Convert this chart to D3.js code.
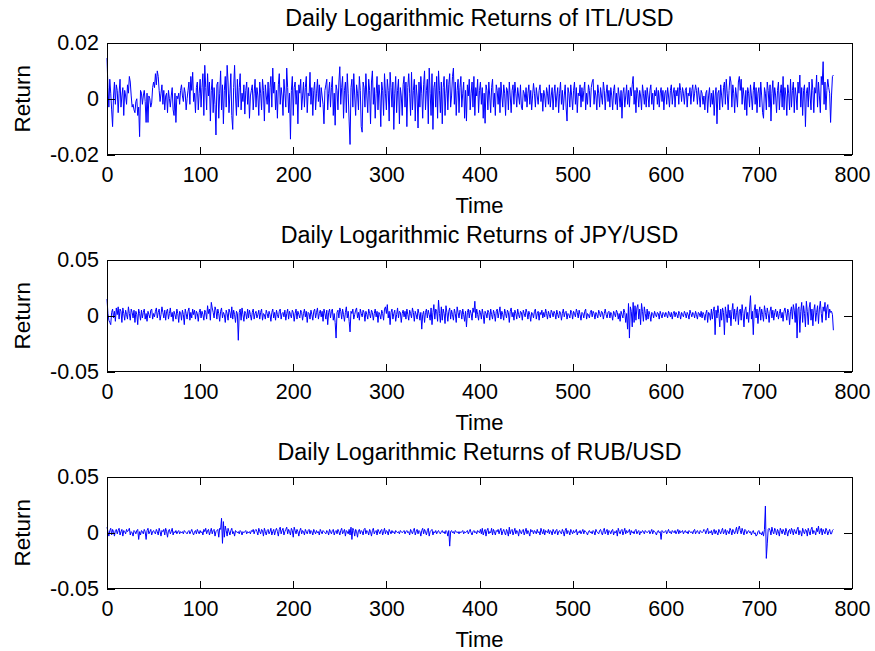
<!DOCTYPE html>
<html lang="en">
<head>
<meta charset="UTF-8">
<title>Daily Logarithmic Returns</title>
<style>
  body { margin: 0; background: #fff; }
  svg text { font-family: "Liberation Sans", Arial, sans-serif; fill: #000; }
</style>
</head>
<body>
<script src="https://d3js.org/d3.v7.min.js"></script>
<div id="chart"></div>
<script>
// daily log returns, in units of 1e-4, one value per day (t = 0..780)
const itlReturns = [
  146, 40, -30, 70, 20, -40, -100, 10, 60, -20, 50, 30, -50, 20, 70, -30, 10, 40, -60, 30,
  10, -20, 50, 20, 80, 60, 10, -30, -20, -40, -50, -10, 0, -60, -30, -136, 30, 20, -20, 10,
  30, -10, -85, 20, -85, 10, 0, -30, -15, 40, 60, 40, 90, 50, 100, 80, 30, -10, 20, 50,
  -20, 30, -40, 10, 20, -50, 30, 0, -30, 10, 40, -40, -60, 20, -85, 10, 0, 20, -20, 30,
  50, 10, -10, 40, 20, -40, 0, 30, 60, -20, 80, 30, 95, -10, 20, -50, 40, 60, -40, 20,
  70, -30, 40, 90, -60, 120, 40, -40, 90, 10, 60, -80, 30, 70, -50, 40, -20, -130, 50, 60,
  -70, 20, 100, -40, 50, -90, 30, 80, -30, 120, 60, -50, 20, 90, -60, -110, 40, 120, 10, -60,
  70, -30, 40, 90, -40, 20, -10, 50, -55, 30, 60, -20, 40, -70, 10, 30, 50, -40, 20, 70,
  -30, 40, 10, -60, 60, 20, -40, 70, 30, -80, 50, 10, -20, 60, -50, 40, 80, -30, 110, 20,
  60, -40, 30, -70, 50, 90, -20, 40, 10, -60, 70, 20, -30, 110, 40, -50, 20, -145, 30, 80,
  -60, 40, 60, -20, 30, -90, 50, 20, 70, -40, 10, 60, -30, 40, 80, -50, 20, 10, 95, -20,
  40, -60, 30, 60, -40, 20, 70, -10, 50, -30, 40, 10, -20, -90, 30, 50, 70, -40, 20, 60,
  -30, 40, 80, -60, 20, -95, 50, 30, -40, 60, 115, -20, 40, 80, -70, 30, 60, -50, 90, 20,
  -80, -164, 40, 70, -30, 90, 10, -60, 50, 20, -40, 80, 30, -100, -120, 60, 40, -30, 90, 10,
  -50, 70, 30, -90, 60, 100, -20, 40, -70, 20, 80, -40, 50, 10, -100, 60, 30, -60, 90, 20,
  -40, 70, 30, -80, 95, 40, -30, 60, -110, 20, 80, -50, 30, 70, -90, 40, 10, -60, 50, 80,
  -30, 60, -100, 40, 90, 20, -60, 95, -40, 30, 70, -80, 50, 10, -105, 60, -30, 80, 20, -70,
  50, 100, -40, 30, 70, -90, 110, 20, -60, 90, -110, 40, 60, -30, 80, -70, 100, 30, -50, 60,
  -90, 40, 80, -60, 20, 70, -40, 50, 90, -30, 10, 80, 110, -20, 60, -60, 30, 70, -50, 40,
  80, -30, 20, 60, -70, 30, -80, 50, 10, 70, -40, 20, 60, -30, 80, -60, 40, 10, 70, -50,
  30, 60, -20, 40, -70, 20, -88, 50, 30, -40, 60, 10, -50, 40, 70, -30, 20, -60, 50, 30,
  -20, 40, -50, 60, 10, -30, 50, 20, -60, 40, 30, -40, 60, 10, -50, 30, 50, -20, 60, 20,
  -30, 40, 10, -20, 50, -30, -40, 30, 20, -10, 40, -30, 20, 50, -20, 30, -40, 10, 55, 20,
  -30, 40, 10, -20, 30, 50, -10, 20, -45, 30, 10, -30, 40, 20, -20, 50, -30, 10, 40, -40,
  20, 50, -30, 10, 40, -50, 20, 60, -20, 30, -40, 10, 50, -30, -80, 40, 20, -30, 50, 10,
  -40, 30, 60, -20, 40, -50, 20, 10, 50, -30, 40, -10, 30, 60, -40, 20, -20, 50, 30, -30,
  40, 60, 70, -20, 30, 10, -40, 50, 20, -30, 40, 10, -20, 60, 30, -40, 20, 50, -10, 30,
  -30, 40, 10, -40, 30, 50, -20, 20, -40, 40, 10, -30, 30, -70, 20, 40, -30, 10, 50, -20,
  30, -30, 40, 10, 50, 80, -20, 30, -50, 40, 20, -30, 30, 10, -40, 50, 20, -20, 30, -30,
  40, 10, -30, 30, 50, -20, 20, -40, 30, 10, 40, -20, 30, -30, 20, 40, -10, 30, -40, 20,
  30, -20, 40, 10, -30, 30, 50, -20, 20, 40, -30, 30, 10, 40, -20, 55, 30, -10, 40, 20,
  -20, 30, 40, -30, 20, 10, 40, -20, 30, 50, -10, 20, 50, 30, -20, 40, 10, -30, 30, 20,
  -20, 10, -40, 20, 30, -50, 10, 40, -30, 20, -20, 30, -60, 10, 40, -90, 20, 30, -40, 50,
  10, -30, 40, 60, -20, 70, 20, -40, 30, 80, 60, -30, 50, 20, -50, 40, 10, -30, 60, 80,
  30, 70, -20, 40, 10, -40, 30, -60, 40, 20, -30, 50, 10, -40, 30, 60, -20, 40, -50, 20,
  40, -30, 60, 10, -50, -70, 40, 20, -40, 60, 30, -30, 50, -80, 20, 65, -20, 40, 10, -50,
  30, 60, -40, 20, 50, -30, 80, -40, 40, 10, -60, 50, 20, -40, 70, -30, 30, 60, -50, 40,
  10, -40, 60, 20, 85, -30, 40, -60, 30, 50, -100, 20, 40, -30, 60, 10, -40, 70, 30, -50,
  40, 20, 85, -30, 60, 10, -50, 80, 50, 133, -20, 60, -40, 30, 70, 40, 20, -85, 10, 80,
  85
];

const jpyReturns = [
  150, 20, -40, -60, -80, 30, 60, -20, 40, -50, 70, 10, 80, -30, 60, 40, -60, 70, 20, -40,
  50, 10, -30, 80, 20, -40, 60, 30, -20, 50, -60, 40, 10, -80, 60, 20, -40, 50, -20, 30,
  60, -30, 20, -50, 40, 10, -20, 50, 60, -30, 20, -10, 40, 70, -20, 30, 60, -40, 10, 80,
  30, -20, 50, -40, 40, 60, -30, 20, 70, -10, 30, -50, 40, 10, -30, 60, 20, -60, 40, 30,
  -40, 50, 10, -80, 60, 20, -30, 40, 70, -40, 30, -20, 60, 10, 50, -30, 40, 20, -50, 30,
  60, -20, 40, 10, -40, 50, 30, -30, 90, 20, 60, -40, 120, 70, 30, -20, 80, 50, -30, 60,
  20, -50, 40, 70, -20, 30, 10, -60, 50, 20, -40, 60, 30, -20, 80, -30, 50, 10, -60, 40,
  20, -220, 30, 60, -40, 70, 10, -50, 40, 20, -30, 60, -20, 50, 10, -40, 30, 60, -30, 20,
  40, -20, 10, 50, -30, 30, 60, -40, 20, 10, -30, 50, 20, -20, 40, 10, -50, 30, 60, -20,
  30, -40, 50, 10, -20, 40, 60, -30, 20, 30, -10, 50, -40, 20, 60, -30, 40, 10, -20, 50,
  30, -50, 20, 60, -30, 40, 10, -20, 50, 30, -40, 20, 60, -10, 40, -60, 30, 20, -30, 50,
  10, -40, 40, 60, -20, 30, 70, -30, 20, 50, -10, 40, -50, 60, 20, -30, 50, -80, 30, 60,
  -20, 40, 60, -40, 20, -60, -200, 30, 50, -20, 70, 40, -30, 60, 10, -50, 30, 80, -20, 40,
  -50, -145, 40, 20, 60, -30, 10, 50, 70, -20, 30, -40, 60, 20, -10, 50, 30, -50, 40, 10,
  -30, 60, 20, -20, 50, 30, -40, 20, 60, -10, 40, -60, 30, 10, -30, 50, 20, -40, 60, 80,
  20, 100, -20, 40, -80, 30, 60, -30, 20, 50, -50, 10, 70, -20, 40, 30, -60, 20, 50, -10,
  40, -30, 60, 10, -40, 50, 20, -20, 70, 30, -50, 40, 10, -30, 60, 20, -40, 30, -120, 10,
  40, -60, 30, 60, -20, 50, 10, -40, 70, -80, 30, 100, -30, 60, 40, -50, 140, 20, -60, 80,
  -40, 60, 20, -70, 90, 30, -50, 40, 70, -30, 50, 10, -40, 60, 20, -60, 80, 30, -20, 50,
  40, -30, 60, 10, -50, 40, -100, 30, 60, -20, 50, 20, -40, 70, 30, 130, -20, 60, 10, -40,
  50, 30, -30, 60, 10, -70, 40, 20, -20, 50, 30, -40, 60, 10, -30, 50, 20, -50, 40, 60,
  -20, 30, 80, -30, 40, 10, -40, 60, 20, -20, 50, 30, -60, 40, 70, -10, 30, -40, 50, 20,
  -30, 60, 10, -20, 40, 30, -40, 50, 20, -10, 60, 30, -30, 40, 10, -50, 30, 20, -20, 40,
  60, -30, 20, 40, -40, 30, 10, 50, -20, 30, -10, 60, 20, -30, 40, 10, -20, 50, 30, -10,
  40, 20, -30, 50, 10, -20, 40, 30, -40, 20, 60, -10, 30, 40, -30, 20, 10, -20, 50, 30,
  -30, 40, 20, -10, 60, 30, -20, 50, 10, -40, 30, 20, -20, 40, 60, -30, 20, 10, -20, 30,
  50, -10, 40, 20, -30, 30, 10, -20, 50, 20, -10, 40, 30, -30, 20, 60, 10, -20, 30, 40,
  -20, 30, 10, -40, 40, 20, -10, 50, 30, -30, 20, -50, 40, 10, -20, 60, 30, -60, 20, -120,
  110, -200, 80, 40, -100, 120, -60, 90, -40, 70, 100, -30, 60, -80, 110, 40, -50, 80, 20, -40,
  60, -30, 40, 10, -50, 30, 20, -20, 40, 10, -10, 30, 20, -30, 40, 10, -20, 30, 20, -10,
  30, 10, -20, 40, 20, -10, 30, -30, 20, 40, -10, 30, 10, -20, 40, 20, -30, 30, 10, -10,
  40, 20, -20, 30, 10, -30, 50, 20, -10, 30, 20, -20, 40, 10, -30, 30, 20, -10, 40, -20,
  30, 10, -40, 20, 50, -60, 30, 20, -40, 60, -30, 40, 80, -170, 50, -20, 90, 20, -100, 60,
  -40, 70, 30, -170, 80, 20, -60, 100, -20, 50, -90, 40, 110, -30, 60, -50, 30, 80, -80, 40,
  60, -40, 100, 20, -100, 50, 80, -30, 30, -60, 70, 180, -30, 40, -170, 50, 100, -20, 60, -70,
  30, 80, -40, 60, 10, -50, 90, 30, -30, 70, 20, -60, 40, 80, -20, 50, -40, 30, 60, -10,
  40, -30, 20, 60, -20, 30, -50, 40, 70, 20, -40, 60, 30, -80, 40, 80, -30, 100, 50, -60,
  110, -200, 60, 80, -150, 40, 120, -60, 90, 20, -100, 130, 40, -80, 70, 120, -40, 60, -90, 50,
  100, -50, 30, 90, -70, 60, 130, 20, -60, 80, 40, 120, -40, 70, 100, -20, 60, 30, 40, 10,
  -130
];

const rubReturns = [
  50, 10, -30, 20, 40, -20, 30, 10, -30, 20, 30, -10, 20, 40, -20, 10, 30, -30, 20, 10,
  -10, 30, 10, 20, 40, -20, 10, 0, -30, 20, 10, -10, 20, 30, -60, 10, -20, 20, 10, -10,
  30, 10, -60, 20, 40, -10, 10, 30, -20, 10, 20, 0, -10, 30, 10, -20, 40, 10, -30, 20,
  10, 30, -20, 40, 10, -40, 20, 30, -10, 10, 40, -20, 10, 0, 20, -10, 10, 20, -10, 10,
  0, 10, -10, 20, 10, 0, -10, 10, 20, -10, 10, 30, 0, -20, 10, 20, -10, 30, 10, -10,
  20, 0, 10, -20, 30, 10, 40, -10, 20, 30, -20, 10, 40, -10, 20, 30, -30, 10, 20, 30,
  -40, 40, 30, 130, -95, 100, -40, 60, 20, -30, 40, 10, -20, 20, 40, -10, 10, -30, 20, 10,
  0, 10, -10, 20, 10, -20, 10, 0, 10, 20, -10, 10, 0, 10, -10, 20, 10, 30, -10, 20,
  30, 10, -20, 40, 10, -10, 30, 20, -30, 40, 10, -20, 20, 30, -10, 10, 40, -20, 10, 30,
  -20, 20, 40, 10, -30, 30, 50, -10, 20, 40, -20, 10, 30, 50, -10, 30, 10, -20, 40, 20,
  -40, 50, 20, -10, 30, 10, -30, 20, 40, -10, 20, 10, -20, 30, 10, -10, 20, 30, -10, 20,
  10, -20, 30, 10, -10, 20, 0, 10, -20, 30, 10, -10, 20, 10, 0, -10, 20, 10, -20, 30,
  10, -10, 20, 30, -20, 10, 20, -10, 30, 10, -20, 20, 40, -10, 10, 30, -30, 20, 10, -10,
  30, -20, 50, -60, 40, 20, -30, 30, 10, -40, 20, 30, -10, 20, 10, -20, 30, 40, -10, 20,
  10, -20, 30, 10, -30, 20, 40, -10, 10, 20, -20, 30, 10, -10, 20, 30, -20, 10, 40, -10,
  20, 10, -20, 30, 10, -10, 20, 0, 10, -10, 20, 10, 0, 10, -10, 20, 10, 0, 10, 20,
  -10, 10, 20, 0, 10, -20, 30, 10, -10, 20, 40, -20, 10, 30, -10, 20, 10, -30, 20, 40,
  -10, 30, 10, -20, 20, 40, -30, 10, 20, 30, -20, 10, 0, 20, -10, 10, 20, 0, -10, 10,
  20, 0, 10, -10, 20, 10, -30, 20, -120, 10, 20, 0, 10, -10, 20, 10, 0, 10, -10, 10,
  0, 10, 20, -10, 10, 0, 10, 20, -10, 10, 30, 0, -20, 10, 20, 0, 10, -10, 20, 10,
  0, 30, -10, 40, -20, 10, 30, -30, 20, 40, -10, 10, 0, 40, -20, 30, 10, -20, 20, 10,
  30, -10, 20, 40, -20, 10, 30, 0, -20, 30, 10, -30, 50, -10, 20, 30, -20, 10, 40, -10,
  20, 10, -30, 30, 10, -10, 20, 30, -20, 10, 40, -10, 20, 0, -30, 30, 10, 20, -10, 20,
  10, -10, 30, 0, 10, -20, 40, 10, -10, 30, -20, 20, 10, 0, 30, -10, 20, 10, -20, 30,
  10, -10, 20, 30, -20, 10, 20, 0, -10, 30, 10, -30, 20, 40, -10, 20, 10, -20, 30, 10,
  -10, 20, 0, 10, 30, -20, 10, 0, 20, -10, 10, 30, -10, 20, 10, 0, -20, 10, 20, 0,
  10, -10, 20, 10, -20, 30, 10, 0, -10, 20, 30, 0, -20, 20, 40, -10, 10, 30, -20, 20,
  10, -10, 20, 30, -20, 10, 0, 20, -30, 40, 10, -10, 20, 30, -20, 10, 40, -10, 20, 0,
  10, 30, -20, 20, 0, 10, -10, 20, 30, -10, 10, 20, -20, 10, 0, 20, 10, -10, 20, 10,
  0, 10, 20, -10, 10, 30, -10, 20, 10, 0, -20, 10, 20, 0, 10, -60, 20, 10, 0, 10,
  20, -10, 10, 30, 0, 10, -10, 20, 10, 0, 20, -10, 10, 30, -10, 20, 0, 10, 20, -10,
  10, 20, 0, 10, -10, 20, 10, 0, 10, -10, 20, 30, -10, 10, 20, 0, -10, 20, 10, 0,
  10, 30, 20, -10, 20, 40, -10, 10, 0, 20, -20, 10, 30, -10, 20, 0, -20, 30, 10, -10,
  20, 40, -10, 10, 30, -20, 20, 10, -10, 40, 20, -20, 30, 10, -10, 20, 50, -10, 30, 60,
  20, -10, 40, 10, -20, 30, 20, -10, 10, 20, 0, 10, -20, 10, 20, -10, 0, -30, -20, 10,
  20, -10, 0, -20, 10, -30, 30, 240, -230, -100, 30, 40, 20, -20, 50, 10, -10, 40, 20, -20,
  30, 10, -30, 40, 20, -10, 30, 10, -20, 40, 10, -30, 20, 30, -10, 40, 20, -20, 30, 10,
  -10, 30, 50, -20, 20, 10, -30, 40, 10, -10, 30, 20, -30, 40, 10, -20, 30, 50, -10, 20,
  10, -20, 40, 10, 60, -10, 20, 40, -20, 30, 10, -10, 40, 20, -20, 10, 30, -10, -10, 20,
  30
];

const titles = [
  "Daily Logarithmic Returns of ITL/USD",
  "Daily Logarithmic Returns of JPY/USD",
  "Daily Logarithmic Returns of RUB/USD"
];
const xTicks = [0, 100, 200, 300, 400, 500, 600, 700, 800];
const yTicksItl = [-0.02, 0, 0.02];
const yLabelsItl = ["-0.02", "0", "0.02"];
const yTicksWide = [-0.05, 0, 0.05];
const yLabelsWide = ["-0.05", "0", "0.05"];

const width = 875, height = 651;
const left = 107, right = 852, panelH = 111.5;
const panelTops = [43, 260, 477];

const panels = [
  {title: titles[0], values: itlReturns, ticks: yTicksItl, labels: yLabelsItl},
  {title: titles[1], values: jpyReturns, ticks: yTicksWide, labels: yLabelsWide},
  {title: titles[2], values: rubReturns, ticks: yTicksWide, labels: yLabelsWide}
];

const svg = d3.select("#chart").append("svg")
    .attr("width", width)
    .attr("height", height)
    .style("display", "block")
    .style("background", "#fff");

const x = d3.scaleLinear().domain([0, 800]).range([left, right]);

panels.forEach((p, k) => {
  const top = panelTops[k], bottom = top + panelH;
  const y = d3.scaleLinear().domain([p.ticks[0], p.ticks[2]]).range([bottom, top]);
  const g = svg.append("g");

  // data line
  g.append("path")
    .datum(p.values)
    .attr("fill", "none")
    .attr("stroke", "#0000ff")
    .attr("stroke-width", 1)
    .attr("d", d3.line().x((d, i) => x(i)).y(d => y(d / 1e4)));

  // axes, ticks pointing inward like matlab
  const styleAxis = sel => {
    sel.attr("font-size", 21.5).attr("font-family", "Liberation Sans, Arial, sans-serif");
    sel.select(".domain").remove();
    sel.selectAll("line").attr("shape-rendering", "crispEdges");
  };
  g.append("g").attr("transform", `translate(0,${bottom})`)
    .call(d3.axisBottom(x).tickValues(xTicks).tickSizeInner(-8).tickSizeOuter(0).tickPadding(12.3))
    .call(styleAxis);
  g.append("g").attr("transform", `translate(0,${top})`)
    .call(d3.axisTop(x).tickValues(xTicks).tickSizeInner(-8).tickSizeOuter(0).tickFormat(""))
    .call(styleAxis);
  g.append("g").attr("transform", `translate(${left},0)`)
    .call(d3.axisLeft(y).tickValues(p.ticks).tickSizeInner(-8).tickSizeOuter(0).tickPadding(8)
      .tickFormat((d, i) => p.labels[i]))
    .call(styleAxis);
  g.append("g").attr("transform", `translate(${right},0)`)
    .call(d3.axisRight(y).tickValues(p.ticks).tickSizeInner(-8).tickSizeOuter(0).tickFormat(""))
    .call(styleAxis);

  // box
  g.append("rect")
    .attr("x", left).attr("y", top)
    .attr("width", right - left).attr("height", panelH)
    .attr("fill", "none").attr("stroke", "#000").attr("stroke-width", 1)
    .attr("shape-rendering", "crispEdges");

  // title and labels
  g.append("text")
    .attr("x", (left + right) / 2).attr("y", top - 17)
    .attr("text-anchor", "middle").attr("font-size", 23.3)
    .text(p.title);
  g.append("text")
    .attr("x", (left + right) / 2).attr("y", bottom + 58.5)
    .attr("text-anchor", "middle").attr("font-size", 22)
    .text("Time");
  g.append("text")
    .attr("transform", `translate(30,${top + panelH / 2}) rotate(-90)`)
    .attr("text-anchor", "middle").attr("font-size", 22.5)
    .text("Return");
});
</script>
</body>
</html>
